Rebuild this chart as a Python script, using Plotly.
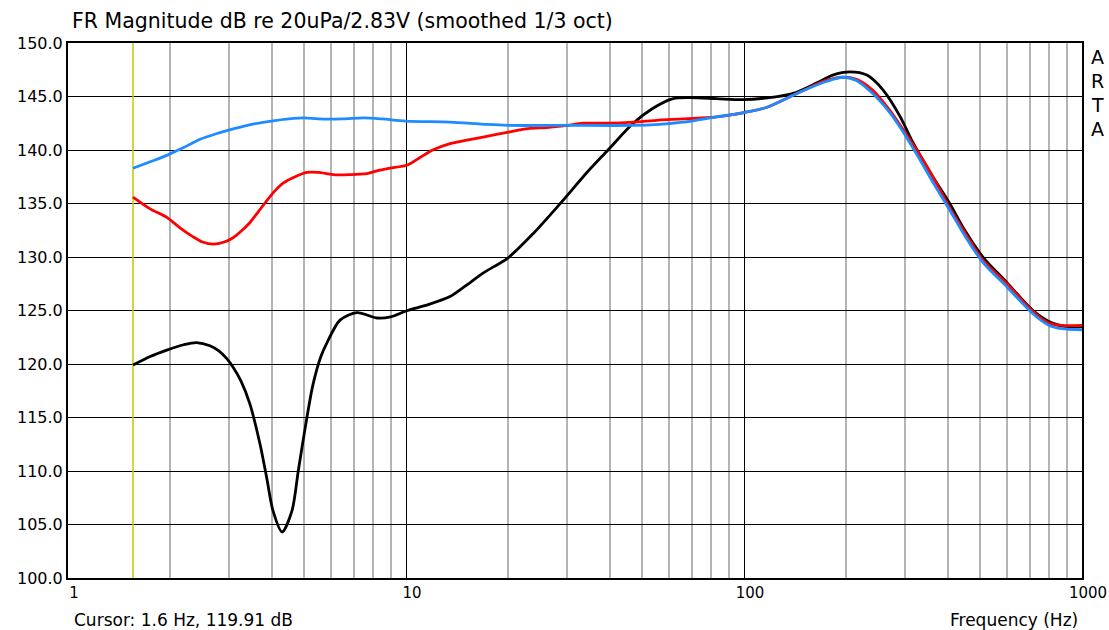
import plotly.graph_objects as go

# ---- data ----
cursor_freq = 1.557
cursor_text = "Cursor: 1.6 Hz, 119.91 dB"
title_text = "FR Magnitude dB re 20uPa/2.83V (smoothed 1/3 oct)"
x_tick_vals = [1, 10, 100, 1000]
x_tick_text = ["1", "10", "100", "1000"]
x_minor_vals = [m * d for d in (1, 10, 100) for m in range(2, 10)]
y_tick_vals = [100, 105, 110, 115, 120, 125, 130, 135, 140, 145, 150]

black_f = [1.557, 1.75, 1.96, 2.2, 2.4, 2.63, 2.8, 2.95, 3.08, 3.25, 3.45, 3.7, 3.88,
           4.04, 4.3, 4.6, 4.8, 5.0, 5.3, 5.6, 5.84, 6.38, 7.16, 8.2, 9.0, 10.1, 11.5,
           13.5, 15, 16.9, 20, 23.8, 28.6, 34.3, 39.6, 47, 53.8, 61.7, 69.2, 83, 99,
           119, 140, 165, 183, 206, 231, 258, 290, 316, 362, 406, 450, 509, 600, 716,
           820, 900, 1000]
black_db = [119.9, 120.7, 121.3, 121.8, 122.0, 121.7, 121.2, 120.5, 119.7, 118.4, 116.3,
            112.5, 109.2, 106.3, 104.3, 106.3, 110.0, 113.5, 118.0, 120.7, 122.0, 124.1,
            124.8, 124.3, 124.4, 125.0, 125.5, 126.3, 127.3, 128.5, 129.9, 132.2, 135.0,
            137.9, 140.0, 142.5, 143.9, 144.8, 144.9, 144.8, 144.7, 144.9, 145.3, 146.3,
            147.0, 147.3, 147.0, 145.6, 143.1, 140.7, 137.5, 135.0, 132.5, 130.0, 127.6,
            125.0, 123.8, 123.5, 123.5]

red_f = [1.557, 1.75, 1.96, 2.15, 2.34, 2.5, 2.69, 2.9, 3.08, 3.25, 3.45, 3.65, 3.88,
         4.1, 4.33, 4.7, 5.09, 5.5, 6.08, 6.8, 7.67, 8.3, 8.97, 10.1, 11, 12, 13.5, 15,
         16.9, 20.3, 23, 26.1, 30, 33.4, 40, 47, 56, 66, 83, 100, 117, 146, 175, 196,
         215, 240, 270, 300, 350, 406, 450, 509, 600, 716, 800, 870, 1000]
red_db = [135.6, 134.5, 133.7, 132.7, 131.9, 131.4, 131.2, 131.4, 131.8, 132.4, 133.2,
          134.2, 135.3, 136.2, 136.9, 137.5, 137.9, 137.9, 137.7, 137.7, 137.8, 138.1,
          138.3, 138.6, 139.3, 140.0, 140.6, 140.9, 141.2, 141.7, 142.0, 142.1, 142.3,
          142.5, 142.5, 142.6, 142.8, 142.9, 143.1, 143.5, 144.0, 145.4, 146.5, 146.8,
          146.6, 145.6, 143.7, 141.6, 138.3, 134.6, 132.3, 129.7, 127.5, 124.9, 123.8,
          123.6, 123.6]

blue_f = [1.557, 1.75, 1.96, 2.19, 2.46, 2.8, 3.1, 3.5, 4.0, 4.5, 5, 5.5, 6.5, 7.5, 8.5,
          10, 13.5, 17, 20, 30, 47, 56, 66, 83, 100, 117, 146, 175, 196, 215, 240, 270,
          290, 330, 362, 406, 450, 509, 600, 716, 800, 870, 1000]
blue_db = [138.3, 138.9, 139.5, 140.2, 141.0, 141.6, 142.0, 142.4, 142.7, 142.9, 143.0,
           142.9, 142.9, 143.0, 142.9, 142.7, 142.6, 142.4, 142.3, 142.3, 142.3, 142.4,
           142.6, 143.1, 143.5, 144.0, 145.4, 146.4, 146.8, 146.5, 145.3, 143.5, 142.1,
           139.2, 137.0, 134.4, 132.0, 129.5, 127.2, 124.7, 123.6, 123.3, 123.2]

FONT = "DejaVu Sans"

fig = go.Figure()

# cursor line
fig.add_trace(go.Scatter(x=[cursor_freq, cursor_freq], y=[100, 150], mode="lines",
                         line=dict(color="#c8c800", width=1.5), hoverinfo="skip"))

fig.add_trace(go.Scatter(x=black_f, y=black_db, mode="lines",
                         line=dict(color="#000000", width=2.8, shape="spline", smoothing=0.8)))
fig.add_trace(go.Scatter(x=red_f, y=red_db, mode="lines",
                         line=dict(color="#ff0000", width=2.8, shape="spline", smoothing=0.8)))
fig.add_trace(go.Scatter(x=blue_f, y=blue_db, mode="lines",
                         line=dict(color="#1e8cff", width=2.8, shape="spline", smoothing=0.8)))

fig.update_layout(
    width=1109, height=630,
    margin=dict(l=68, r=27, t=43, b=52, autoexpand=False),
    paper_bgcolor="white", plot_bgcolor="white",
    showlegend=False,
    font=dict(family=FONT, size=16, color="black"),
)

fig.update_xaxes(
    type="log", range=[0, 3], automargin=False,
    tickvals=x_tick_vals, ticktext=x_tick_text,
    showgrid=True, gridcolor="#000000", gridwidth=1.2,
    minor=dict(tickvals=x_minor_vals, showgrid=True, gridcolor="#b4b4b4", gridwidth=1.5),
    showline=True, linecolor="black", linewidth=2, mirror=True,
    ticks="", ticklabelshift=6, zeroline=False,
    tickfont=dict(family=FONT, size=15, color="black"),
)
fig.update_yaxes(
    range=[100, 150], tickvals=y_tick_vals, tickformat=".1f", automargin=False,
    showgrid=True, gridcolor="#000000", gridwidth=1.2,
    showline=True, linecolor="black", linewidth=2, mirror=True,
    ticks="", zeroline=False,
    tickfont=dict(family=FONT, size=16, color="black"),
)

def py(p):
    return (578 - p) / 535.0

def px(p):
    return (p - 68) / 1014.0

fig.add_annotation(text=title_text, xref="paper", yref="paper", x=px(70), y=py(21),
                   xanchor="left", yanchor="middle", showarrow=False,
                   font=dict(family=FONT, size=20.5, color="black"))
fig.add_annotation(text=cursor_text, xref="paper", yref="paper", x=px(72), y=py(620),
                   xanchor="left", yanchor="middle", showarrow=False,
                   font=dict(family=FONT, size=17, color="black"))
fig.add_annotation(text="Frequency (Hz)", xref="paper", yref="paper", x=px(1080), y=py(620),
                   xanchor="right", yanchor="middle", showarrow=False,
                   font=dict(family=FONT, size=17, color="black"))
for letter, yy in zip("ARTA", [57, 81, 105, 129]):
    fig.add_annotation(text=letter, xref="paper", yref="paper", x=px(1097), y=py(yy),
                       xanchor="center", yanchor="middle", showarrow=False,
                       font=dict(family=FONT, size=19, color="black"))

fig.write_html("out.html")
